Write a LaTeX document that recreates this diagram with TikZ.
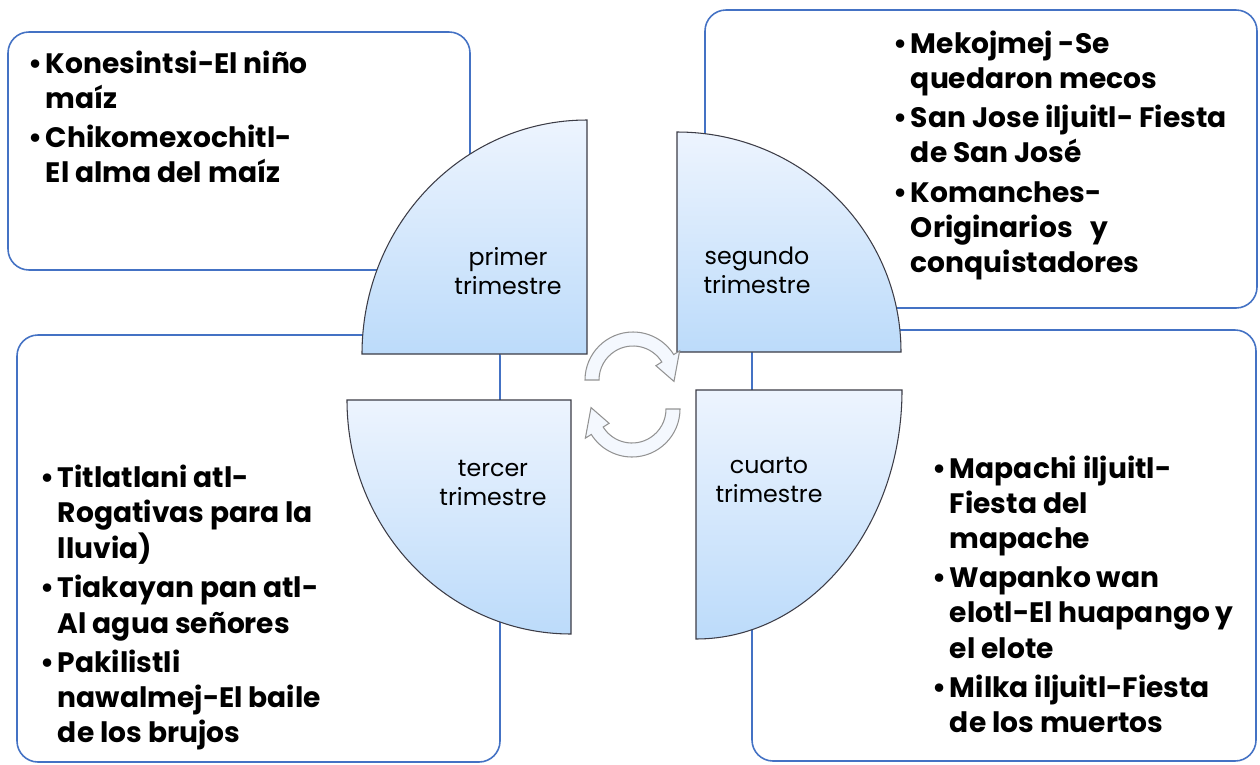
\documentclass[tikz,border=0pt]{standalone}
\usepackage{fontspec}
\setmainfont{Poppins}
\usetikzlibrary{calc}
\definecolor{boxblue}{RGB}{68,114,196}
\definecolor{qtop}{RGB}{237,244,254}
\definecolor{qbot}{RGB}{188,219,250}
\definecolor{qline}{RGB}{60,60,70}
\definecolor{arrfill}{RGB}{244,248,254}

\begin{document}
\begin{tikzpicture}[
x=0.02cm, y=0.02cm,
box/.style = {draw=boxblue, line width=0.9pt, rounded corners=0.42cm, fill=white},
quarter/.style = {draw=qline, line width=0.6pt, top color=qtop, bottom color=qbot},
qlabel/.style = {align=center, inner sep=0pt, font=\fontsize{13.5}{16.5}\selectfont},
items/.style = {anchor=base west, inner sep=0pt, font=\fontsize{16}{20}\selectfont\bfseries},
cyc/.style = {draw=gray!85, line width=0.6pt, fill=arrfill}
                        ]
\useasboundingbox (0,0) rectangle (1260,-764);

    \draw[box] (8,-32) rectangle (470,-270);
    \draw[box] (705,-10) rectangle (1257,-308);
    \draw[box] (17,-335) rectangle (500,-762);
    \draw[box] (752,-330) rectangle (1256,-761);

    \draw[quarter] (587,-354) -- (362,-354) arc[start angle=180, end angle=90, x radius=225, y radius=234] -- cycle;
    \draw[quarter] (677,-352) -- (677,-132) arc[start angle=90, end angle=0, x radius=224, y radius=220] -- cycle;
    \draw[quarter] (571,-400) -- (571,-634) arc[start angle=270, end angle=180, x radius=224, y radius=234] -- cycle;
    \draw[quarter] (696,-390) -- (902,-390) arc[start angle=0, end angle=-90, x radius=206, y radius=249] -- cycle;

    \node[qlabel] (Q1) at (508,-271) {primer\\trimestre};
    \node[qlabel] (Q2) at (757,-270) {segundo\\trimestre};
    \node[qlabel] (Q3) at (493,-483) {tercer\\trimestre};
    \node[qlabel] (Q4) at (769,-480) {cuarto\\trimestre};

    \coordinate (C1) at (633,-380);
    \coordinate (C2) at (632,-409);
    \draw[cyc] ($(C1)+(180:34)$) -- ($(C1)+(180:48)$) arc[start angle=180, end angle=32, radius=48]
        -- ($(C1)+(32:55)$) -- ($(C1)+(-2:41)$) -- ($(C1)+(32:27)$) -- ($(C1)+(32:34)$)
        arc[start angle=32, end angle=180, radius=34] -- cycle;
    \draw[cyc] ($(C2)+(0:34)$) -- ($(C2)+(0:48)$) arc[start angle=0, end angle=-148, radius=48]
        -- ($(C2)+(-148:55)$) -- ($(C2)+(178:41)$) -- ($(C2)+(-148:27)$) -- ($(C2)+(-148:34)$)
        arc[start angle=-148, end angle=0, radius=34] -- cycle;

    \node[items] (T1) at (28,-73) {\begin{tabular}[t]{@{}l@{\hspace{2pt}}l@{}}
        \textbullet & Konesintsi-El niño\\ & maíz\\[2.5pt]
        \textbullet & Chikomexochitl-\\ & El alma del maíz
        \end{tabular}};
    \node[items] (T2) at (893,-53) {\begin{tabular}[t]{@{}l@{\hspace{2pt}}l@{}}
        \textbullet & Mekojmej -Se\\ & quedaron mecos\\[2.5pt]
        \textbullet & San Jose iljuitl- Fiesta\\ & de San José\\[2.5pt]
        \textbullet & Komanches-\\ & Originarios \ \ y\\ & conquistadores
        \end{tabular}};
    \node[items] (T3) at (40,-487) {\begin{tabular}[t]{@{}l@{\hspace{2pt}}l@{}}
        \textbullet & Titlatlani atl-\\ & Rogativas para la\\ & lluvia)\\[2.5pt]
        \textbullet & Tiakayan pan atl-\\ & Al agua señores\\[2.5pt]
        \textbullet & Pakilistli\\ & nawalmej-El baile\\ & de los brujos
        \end{tabular}};
    \node[items] (T4) at (932,-478) {\begin{tabular}[t]{@{}l@{\hspace{2pt}}l@{}}
        \textbullet & Mapachi iljuitl-\\ & Fiesta del\\ & mapache\\[2.5pt]
        \textbullet & Wapanko wan\\ & elotl-El huapango y\\ & el elote\\[2.5pt]
        \textbullet & Milka iljuitl-Fiesta\\ & de los muertos
        \end{tabular}};

\end{tikzpicture}
\end{document}
